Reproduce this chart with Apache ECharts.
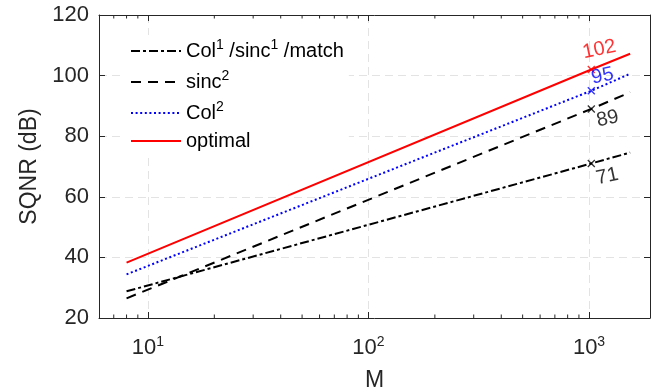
<!DOCTYPE html>
<html><head><meta charset="utf-8">
<script src="https://cdn.jsdelivr.net/npm/echarts@6/dist/echarts.min.js"></script>
<style>html,body{margin:0;padding:0;background:#fff}#c{width:656px;height:392px}</style>
</head><body><div id="c"></div>
<script>
// ---- data ----
const M = [8, 1024, 1536];
const optimal = [38.3, 102, 107.2];
const col2 = [34.4, 95, 100.6];
const sinc2 = [26.5, 89, 94.5];
const col1 = [28.8, 71, 74.6];
const markM = 1024;
const markValues = [102, 95, 89, 71];
const yTicks = [20, 40, 60, 80, 100, 120];
const xMin = 6, xMax = 1890;
const minorTicksM = [7, 8, 9, 20, 30, 40, 50, 60, 70, 80, 90, 200, 300, 400, 500, 600, 700, 800, 900];
const seriesNames = ['Col1 /sinc1 /match', 'sinc2', 'Col2', 'optimal'];
const legendRich = {
  'Col1 /sinc1 /match': '{n|Col}{s|1}{n| /sinc}{s|1}{n| /match}',
  'sinc2': '{n|sinc}{s|2}',
  'Col2': '{n|Col}{s|2}',
  'optimal': '{n|optimal}'
};

// ---- styles ----
const FONT = 'Liberation Sans, Arial, sans-serif';
const AX = '#262626';
const styles = [
  {color: '#000000', type: [9, 3, 3, 3]},
  {color: '#000000', type: [10, 7]},
  {color: '#0000ff', type: [2, 2.6]},
  {color: '#ff0000', type: 'solid'}
];
const lineData = [col1, sinc2, col2, optimal];
const markColors = ['#ff0000', '#0000ff', '#000000', '#000000'];
const markOffsets = [[12, -18], [14, -12], [14, 13], [13, 16]];

const chart = echarts.init(document.getElementById('c'), null, {renderer: 'canvas'});

const lineSeries = seriesNames.map((name, i) => ({
  name: name,
  type: 'line',
  data: M.map((m, j) => [m, lineData[i][j]]),
  symbol: 'none',
  color: styles[i].color,
  lineStyle: {color: styles[i].color, width: 2, type: styles[i].type},
  z: 3 + i,
  silent: true
}));

const markSeries = markValues.map((v, i) => ({
  name: 'mark' + i,
  type: 'scatter',
  data: [[markM, v]],
  symbol: 'path://M0,0L10,10M10,0L0,10',
  symbolSize: 7,
  itemStyle: {color: 'transparent', borderColor: markColors[i], borderWidth: 1.3},
  label: {
    show: true,
    position: 'inside',
    offset: markOffsets[i],
    formatter: p => String(p.value[1]),
    color: markColors[i],
    fontSize: 20,
    fontFamily: FONT,
    rotate: 12,
    align: 'center',
    verticalAlign: 'middle'
  },
  z: 10,
  silent: true
}));

const minorSeries = {
  name: 'minor',
  type: 'custom',
  silent: true,
  data: minorTicksM.map(v => [v, yTicks[0]]),
  renderItem: function (params, api) {
    const x = api.value(0);
    const pb = api.coord([x, yTicks[0]]);
    const pt = api.coord([x, yTicks[yTicks.length - 1]]);
    return {type: 'group', children: [
      {type: 'line', shape: {x1: pb[0], y1: pb[1], x2: pb[0], y2: pb[1] - 3.5}, style: {stroke: AX, lineWidth: 1}},
      {type: 'line', shape: {x1: pt[0], y1: pt[1], x2: pt[0], y2: pt[1] + 3.5}, style: {stroke: AX, lineWidth: 1}}
    ]};
  },
  z: 20
};

function xLabel(v) {
  const e = Math.round(Math.log10(v));
  if (Math.abs(v - Math.pow(10, e)) / v > 1e-6) return '';
  return '{b|10}{e|' + e + '}';
}

const axisLineStyle = {color: AX, width: 1};
const gridLine = {show: true, lineStyle: {color: '#e3e3e3', width: 1, type: [8, 5]}};

chart.setOption({
  animation: false,
  backgroundColor: '#ffffff',
  grid: {left: 99, right: 6, top: 15, bottom: 74, containLabel: false, outerBoundsMode: 'none'},
  legend: {
    data: seriesNames,
    orient: 'vertical',
    left: 125,
    top: 35,
    padding: [3, 5],
    backgroundColor: '#ffffff',
    itemWidth: 50,
    itemHeight: 14,
    itemGap: 8,
    itemStyle: {color: 'transparent', borderWidth: 0, opacity: 0},
    formatter: name => legendRich[name],
    textStyle: {
      fontFamily: FONT,
      color: '#000',
      rich: {
        n: {fontSize: 20, fontFamily: FONT, color: '#000', lineHeight: 26, verticalAlign: 'middle'},
        s: {fontSize: 14, fontFamily: FONT, color: '#000', lineHeight: 14, verticalAlign: 'top'}
      }
    }
  },
  xAxis: [{
    type: 'log', logBase: 10, min: xMin, max: xMax, position: 'bottom',
    axisLine: {show: true, lineStyle: axisLineStyle},
    axisTick: {show: true, inside: true, length: 6, lineStyle: axisLineStyle},
    axisLabel: {
      formatter: xLabel, margin: 17, lineHeight: 26,
      rich: {
        b: {fontSize: 22, fontFamily: FONT, color: AX, lineHeight: 26, verticalAlign: 'middle'},
        e: {fontSize: 14, fontFamily: FONT, color: AX, lineHeight: 10, verticalAlign: 'top'}
      }
    },
    splitLine: gridLine,
    name: 'M', nameLocation: 'middle', nameGap: 51,
    nameTextStyle: {fontSize: 23, fontFamily: FONT, color: AX}
  }, {
    type: 'log', logBase: 10, min: xMin, max: xMax, position: 'top',
    axisLine: {show: true, lineStyle: axisLineStyle},
    axisTick: {show: true, inside: true, length: 6, lineStyle: axisLineStyle},
    axisLabel: {show: false},
    splitLine: {show: false}
  }],
  yAxis: [{
    type: 'value', min: yTicks[0], max: yTicks[yTicks.length - 1], interval: 20, position: 'left',
    axisLine: {show: true, lineStyle: axisLineStyle},
    axisTick: {show: true, inside: true, length: 6, lineStyle: axisLineStyle},
    axisLabel: {fontSize: 22, fontFamily: FONT, color: AX, margin: 10},
    splitLine: gridLine,
    name: 'SQNR (dB)', nameLocation: 'middle', nameGap: 54,
    nameTextStyle: {fontSize: 23, fontFamily: FONT, color: AX}
  }, {
    type: 'value', min: yTicks[0], max: yTicks[yTicks.length - 1], interval: 20, position: 'right',
    axisLine: {show: true, lineStyle: axisLineStyle},
    axisTick: {show: true, inside: true, length: 6, lineStyle: axisLineStyle},
    axisLabel: {show: false},
    splitLine: {show: false}
  }],
  series: [...lineSeries, ...markSeries, minorSeries]
});
</script>
</body></html>
